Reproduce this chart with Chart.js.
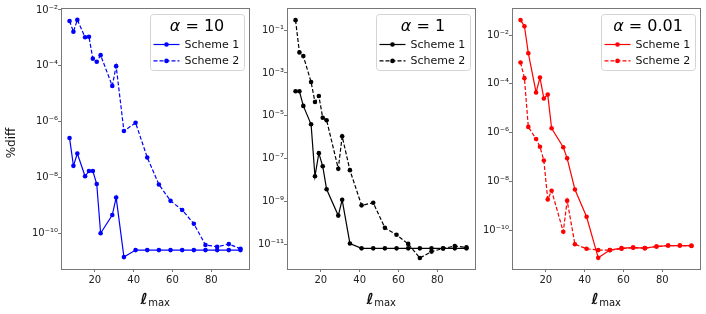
<!DOCTYPE html>
<html>
<head>
<meta charset="utf-8">
<script src="https://cdn.jsdelivr.net/npm/chart.js@4"></script>
<style>
  html, body { margin: 0; padding: 0; background: #fff; }
  #wrap { position: relative; width: 706px; height: 314px; overflow: hidden; }
  #wrap canvas { position: absolute; top: 0; }
</style>
</head>
<body>
<div id="wrap">
  <canvas id="c1" width="255" height="314"></canvas>
  <canvas id="c2" width="240" height="314"></canvas>
  <canvas id="c3" width="240" height="314"></canvas>
</div>
<script>
// l_max values shared by every curve
const lmax = [7, 9, 11, 15, 17, 19, 21, 23, 29, 31, 35, 41, 47, 53, 59, 65, 71, 77, 83, 89, 95];
const alphaLabels = ['10', '1', '0.01'];
const seriesNames = ['Scheme 1', 'Scheme 2'];

// alpha = 10
const s1Alpha10 = [2.6e-7, 2.6e-8, 7.2e-8, 1.1e-8, 1.7e-8, 1.7e-8, 5.8e-9, 1.0e-10, 4.5e-10, 1.9e-9, 1.4e-11,
  2.5e-11, 2.5e-11, 2.5e-11, 2.5e-11, 2.5e-11, 2.5e-11, 2.5e-11, 2.5e-11, 2.5e-11, 2.5e-11];
const s2Alpha10 = [4.0e-3, 1.66e-3, 4.4e-3, 1.05e-3, 1.1e-3, 1.8e-4, 1.4e-4, 2.4e-4, 1.9e-5, 9.7e-5, 4.6e-7,
  9.1e-7, 5.2e-8, 5.6e-9, 1.45e-9, 6.8e-10, 2.2e-10, 3.8e-11, 3.3e-11, 4.1e-11, 2.8e-11];

// alpha = 1
const s1Alpha1 = [1.4e-4, 1.4e-4, 2.9e-5, 4.0e-6, 1.5e-8, 1.8e-7, 4.4e-8, 3.7e-9, 2.2e-10, 1.2e-9, 1.1e-11,
  6.5e-12, 6.5e-12, 6.5e-12, 6.5e-12, 6.5e-12, 6.5e-12, 6.5e-12, 6.5e-12, 6.5e-12, 6.5e-12];
const s2Alpha1 = [0.29, 9.1e-3, 6.1e-3, 3.8e-4, 4.4e-5, 8.4e-5, 8.1e-6, 6.2e-6, 3.4e-8, 1.1e-6, 2.9e-8,
  6.6e-10, 8.7e-10, 5.9e-11, 2.8e-11, 1.05e-11, 2.3e-12, 4.6e-12, 6.4e-12, 8.3e-12, 7.2e-12];

// alpha = 0.01
const s1Alpha001 = [0.041, 0.023, 1.8e-3, 4.4e-5, 1.8e-4, 2.5e-5, 3.6e-5, 1.5e-6, 2.5e-7, 8.7e-8, 4.6e-9,
  3.5e-10, 7.2e-12, 1.5e-11, 1.8e-11, 1.9e-11, 1.8e-11, 2.1e-11, 2.3e-11, 2.3e-11, 2.3e-11];
const s2Alpha001 = [7.5e-4, 1.7e-4, 1.7e-6, 5.4e-7, 2.6e-7, 7.1e-8, 1.8e-9, 4.1e-9, 8.5e-11, 1.6e-9, 2.6e-11,
  1.7e-11, 1.5e-11, 1.5e-11, 1.7e-11, 1.9e-11, 1.8e-11, 2.1e-11, 2.3e-11, 2.3e-11, 2.2e-11];

// tick exponents / positions
const yExp10 = [-2, -4, -6, -8, -10];
const yExp1 = [-1, -3, -5, -7, -9, -11];
const yExp001 = [-2, -4, -6, -8, -10];
const xTicks = [20, 40, 60, 80];

const FONT = "'DejaVu Sans', sans-serif";
const FRAME = '#777';
const sup = { '-': '\u207B', '0': '\u2070', '1': '\u00B9', '2': '\u00B2', '3': '\u00B3',
  '4': '\u2074', '5': '\u2075', '6': '\u2076', '7': '\u2077', '8': '\u2078', '9': '\u2079' };

function powLabel(v) {
  const e = Math.round(Math.log10(v));
  return '10' + String(e).split('').map(c => sup[c]).join('');
}

const panels = [
  { id: 'c1', left: 0, width: 255, plotLeft: 61, plotRight: 249, color: '#0000ff', alpha: alphaLabels[0],
    s1: s1Alpha10, s2: s2Alpha10, yExp: yExp10, yMin: -11.28, yMax: -1.93, yLabel: true },
  { id: 'c2', left: 240, width: 240, plotLeft: 287, plotRight: 475, color: '#000000', alpha: alphaLabels[1],
    s1: s1Alpha1, s2: s2Alpha1, yExp: yExp1, yMin: -12.15, yMax: 0.03, yLabel: false },
  { id: 'c3', left: 466, width: 240, plotLeft: 512, plotRight: 700, color: '#ff0000', alpha: alphaLabels[2],
    s1: s1Alpha001, s2: s2Alpha001, yExp: yExp001, yMin: -11.6, yMax: -0.89, yLabel: false }
];

function roundRect(ctx, x, y, w, h, r) {
  ctx.beginPath();
  ctx.moveTo(x + r, y);
  ctx.lineTo(x + w - r, y);
  ctx.arcTo(x + w, y, x + w, y + r, r);
  ctx.lineTo(x + w, y + h - r);
  ctx.arcTo(x + w, y + h, x + w - r, y + h, r);
  ctx.lineTo(x + r, y + h);
  ctx.arcTo(x, y + h, x, y + h - r, r);
  ctx.lineTo(x, y + r);
  ctx.arcTo(x, y, x + r, y, r);
  ctx.closePath();
}

function decoPlugin(p) {
  return {
    id: 'deco',
    afterDraw(chart) {
      const ctx = chart.ctx;
      const a = chart.chartArea;
      ctx.save();

      // frame
      ctx.strokeStyle = FRAME;
      ctx.lineWidth = 1;
      ctx.strokeRect(Math.round(a.left) + 0.5, Math.round(a.top) + 0.5,
        Math.round(a.right - a.left), Math.round(a.bottom - a.top));

      // legend box
      const w = 94, h = 56;
      const bx = a.right - 5 - w, by = a.top + 6;
      roundRect(ctx, bx + 0.5, by + 0.5, w, h, 3);
      ctx.fillStyle = 'rgba(255,255,255,0.85)';
      ctx.fill();
      ctx.strokeStyle = '#d4d4d4';
      ctx.stroke();

      // legend title: alpha = value
      ctx.fillStyle = '#000';
      ctx.textBaseline = 'alphabetic';
      ctx.textAlign = 'left';
      const aPart = '\u03B1';
      const rest = ' = ' + p.alpha;
      ctx.font = 'italic 16px ' + FONT;
      const w1 = ctx.measureText(aPart).width;
      ctx.font = '16px ' + FONT;
      const w2 = ctx.measureText(rest).width;
      const tx = bx + w / 2 - (w1 + w2) / 2;
      ctx.font = 'italic 16px ' + FONT;
      ctx.fillText(aPart, tx, by + 17);
      ctx.font = '16px ' + FONT;
      ctx.fillText(rest, tx + w1, by + 17);

      // legend entries
      chart.data.datasets.forEach((ds, i) => {
        const ly = by + 30.5 + i * 16.4;
        ctx.strokeStyle = ds.borderColor;
        ctx.lineWidth = ds.borderWidth;
        ctx.setLineDash(ds.borderDash || []);
        ctx.beginPath();
        ctx.moveTo(bx + 3.5, ly);
        ctx.lineTo(bx + 29.5, ly);
        ctx.stroke();
        ctx.setLineDash([]);
        ctx.fillStyle = ds.pointBackgroundColor;
        ctx.beginPath();
        ctx.arc(bx + 16.5, ly, ds.pointRadius, 0, Math.PI * 2);
        ctx.fill();
        ctx.fillStyle = '#111';
        ctx.font = '11px ' + FONT;
        ctx.textBaseline = 'middle';
        ctx.fillText(ds.label, bx + 34.5, ly + 0.5);
      });

      // x title: l_max
      const cx = (a.left + a.right) / 2;
      ctx.textBaseline = 'alphabetic';
      ctx.fillStyle = '#111';
      ctx.font = 'bold 15px ' + FONT;
      const lw = ctx.measureText('\u2113').width;
      ctx.font = '10px ' + FONT;
      const mw = ctx.measureText('max').width;
      const sx = cx - (lw + mw) / 2;
      ctx.font = 'bold 15px ' + FONT;
      ctx.fillText('\u2113', sx, 304);
      ctx.font = '10px ' + FONT;
      ctx.fillText('max', sx + lw + 0.5, 306);

      // y title
      if (p.yLabel) {
        ctx.translate(12, 143);
        ctx.rotate(-Math.PI / 2);
        ctx.textAlign = 'center';
        ctx.textBaseline = 'middle';
        ctx.font = '12px ' + FONT;
        ctx.fillText('%diff', 0, 0);
      }
      ctx.restore();
    }
  };
}

panels.forEach(p => {
  const el = document.getElementById(p.id);
  el.style.left = p.left + 'px';
  const yWidth = p.plotLeft - p.left;
  const padRight = p.left + p.width - p.plotRight;

  const mk = (label, arr, dash) => ({
    label,
    data: lmax.map((x, i) => ({ x, y: arr[i] })),
    borderColor: p.color,
    backgroundColor: p.color,
    pointBackgroundColor: p.color,
    pointBorderColor: p.color,
    pointRadius: 2.3,
    pointBorderWidth: 0,
    borderWidth: 1.2,
    borderDash: dash,
    tension: 0
  });

  new Chart(el, {
    type: 'line',
    data: {
      datasets: [mk(seriesNames[0], p.s1, []), mk(seriesNames[1], p.s2, [4, 2])]
    },
    options: {
      responsive: false,
      animation: false,
      events: [],
      layout: { padding: { left: 0, right: padRight, top: 8, bottom: 0 } },
      plugins: { legend: { display: false }, tooltip: { enabled: false } },
      scales: {
        x: {
          type: 'linear',
          min: 2.6,
          max: 99.4,
          afterBuildTicks: s => { s.ticks = xTicks.map(v => ({ value: v })); },
          afterFit: s => { s.height = 314 - 269; s.paddingLeft = 0; s.paddingRight = 0; },
          border: { display: false },
          grid: { display: true, drawOnChartArea: false, drawTicks: true, tickLength: 3, color: FRAME },
          ticks: { autoSkip: false, maxRotation: 0, padding: 2, color: '#222', font: { family: FONT, size: 10 } }
        },
        y: {
          type: 'logarithmic',
          min: Math.pow(10, p.yMin),
          max: Math.pow(10, p.yMax),
          afterBuildTicks: s => { s.ticks = p.yExp.map(e => ({ value: Math.pow(10, e) })); },
          afterFit: s => { s.width = yWidth; s.paddingTop = 0; s.paddingBottom = 0; },
          border: { display: false },
          grid: { display: true, drawOnChartArea: false, drawTicks: true, tickLength: 3, color: FRAME },
          ticks: { autoSkip: false, padding: 0, color: '#222', font: { family: FONT, size: 10 },
            callback: v => powLabel(v) }
        }
      }
    },
    plugins: [decoPlugin(p)]
  });
});
</script>
</body>
</html>
